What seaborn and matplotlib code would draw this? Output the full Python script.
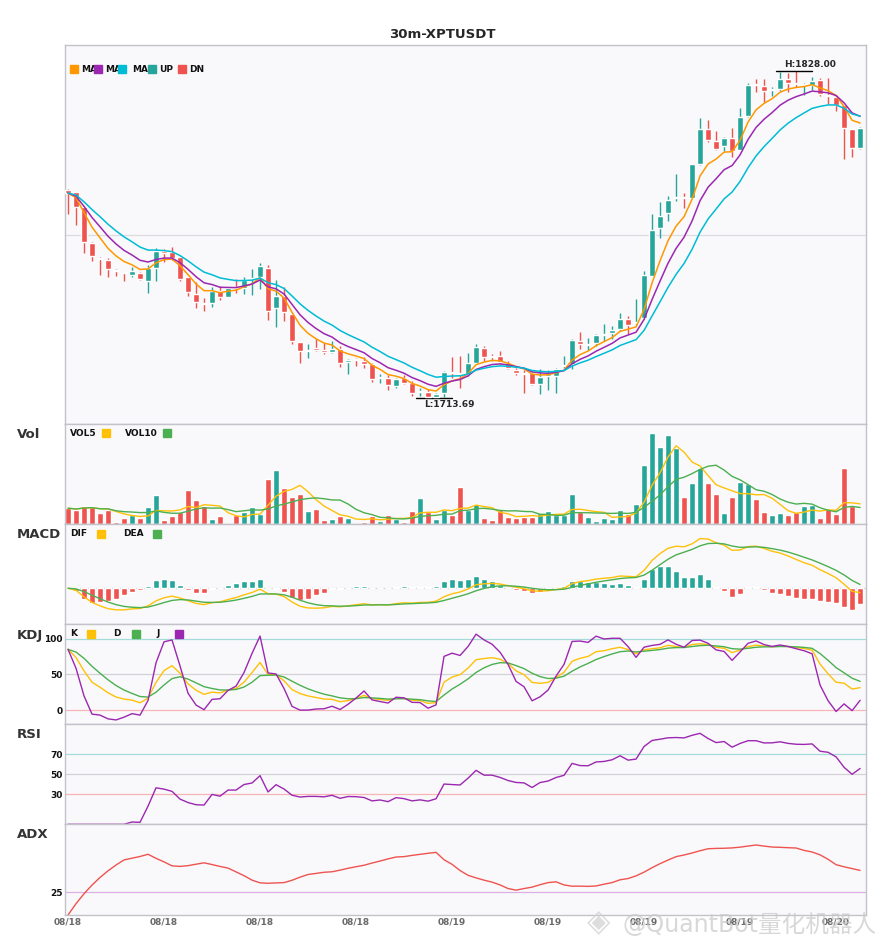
import numpy as np
import pandas as pd
import matplotlib
matplotlib.use("Agg")
import matplotlib.pyplot as plt
from matplotlib.patches import Rectangle
import seaborn as sns

# -------------------------------
# Data
# -------------------------------
opens = [1786.39, 1785.68, 1780.53, 1768.12, 1762.74, 1762.16, 1758.41, 1757.82, 1756.89, 1757.59,
         1754.78, 1759.11, 1765.20, 1764.73, 1763.21, 1755.95, 1750.21, 1746.94, 1746.82, 1751.27,
         1749.16, 1752.67, 1752.20, 1755.25, 1755.95, 1759.35, 1745.06, 1749.51, 1743.08, 1733.36,
         1730.20, 1731.14, 1730.43, 1729.96, 1730.78, 1726.34, 1727.51, 1726.69, 1725.75, 1720.72,
         1720.83, 1717.91, 1720.72, 1719.08, 1715.80, 1715.80, 1714.16, 1715.33, 1722.82, 1722.47,
         1722.24, 1726.10, 1731.37, 1728.56, 1728.44, 1725.87, 1723.41, 1722.59, 1722.59, 1718.49,
         1721.54, 1721.42, 1724.81, 1725.52, 1733.71, 1732.42, 1733.01, 1735.81, 1736.52, 1737.80,
         1741.43, 1740.03, 1741.67, 1756.53, 1773.27, 1778.42, 1783.81, 1784.04, 1783.81, 1795.51,
         1807.80, 1803.59, 1801.84, 1804.64, 1800.66, 1812.37, 1823.49, 1822.91, 1821.50, 1821.74,
         1825.36, 1823.73, 1823.14, 1823.26, 1825.01, 1819.51, 1819.16, 1816.23, 1807.80, 1801.25]
highs = [1786.74, 1785.92, 1780.80, 1768.40, 1763.21, 1762.74, 1758.88, 1758.00, 1759.70, 1757.71,
         1760.40, 1766.25, 1765.78, 1766.72, 1763.40, 1756.10, 1754.20, 1748.69, 1752.44, 1752.91,
         1752.44, 1755.36, 1755.95, 1758.88, 1760.87, 1760.28, 1755.01, 1752.44, 1743.30, 1733.50,
         1732.54, 1734.29, 1733.12, 1733.71, 1731.80, 1727.51, 1727.60, 1728.09, 1725.90, 1722.00,
         1721.77, 1720.83, 1721.77, 1719.66, 1717.32, 1716.74, 1715.57, 1723.17, 1728.09, 1728.44,
         1729.61, 1732.77, 1731.96, 1729.26, 1730.20, 1726.69, 1724.11, 1723.41, 1722.70, 1723.76,
         1723.41, 1724.35, 1728.33, 1734.30, 1736.99, 1734.65, 1736.05, 1739.79, 1738.97, 1743.66,
         1742.49, 1748.34, 1758.29, 1777.95, 1782.40, 1784.28, 1792.24, 1785.45, 1795.60, 1811.55,
         1810.97, 1807.22, 1805.11, 1808.04, 1815.06, 1823.84, 1825.25, 1825.25, 1822.67, 1827.80,
         1827.59, 1828.00, 1823.84, 1826.18, 1825.60, 1825.83, 1819.74, 1816.40, 1808.00, 1808.39]
lows = [1778.19, 1774.10, 1764.38, 1761.57, 1756.89, 1756.19, 1756.54, 1754.55, 1756.19, 1755.13,
        1750.33, 1754.78, 1761.22, 1762.04, 1754.78, 1749.51, 1745.06, 1744.24, 1745.42, 1747.99,
        1748.93, 1750.33, 1750.10, 1749.86, 1751.74, 1741.08, 1738.63, 1740.73, 1732.54, 1726.10,
        1727.86, 1730.20, 1729.26, 1729.61, 1724.58, 1722.24, 1724.93, 1724.35, 1719.43, 1719.08,
        1716.38, 1717.32, 1718.49, 1714.40, 1714.40, 1713.90, 1713.69, 1714.20, 1720.83, 1717.32,
        1721.42, 1725.75, 1726.69, 1726.69, 1725.52, 1723.76, 1721.65, 1715.57, 1718.26, 1714.98,
        1716.38, 1715.57, 1724.35, 1723.76, 1730.78, 1730.43, 1731.96, 1733.71, 1734.29, 1737.22,
        1736.05, 1739.33, 1741.31, 1756.40, 1769.64, 1775.61, 1782.64, 1780.18, 1783.70, 1795.16,
        1803.36, 1800.43, 1800.08, 1798.09, 1800.43, 1811.90, 1820.92, 1817.29, 1819.51, 1821.15,
        1820.92, 1822.67, 1819.74, 1821.50, 1819.51, 1816.58, 1814.13, 1797.27, 1798.09, 1801.01]
closes = [1785.45, 1780.53, 1768.24, 1763.33, 1762.27, 1758.76, 1758.18, 1757.59, 1758.03, 1755.48,
          1759.23, 1765.32, 1764.38, 1762.74, 1755.36, 1750.68, 1747.17, 1746.59, 1751.27, 1749.16,
          1752.20, 1752.20, 1755.01, 1755.83, 1760.05, 1744.24, 1749.51, 1743.89, 1733.71, 1730.20,
          1730.67, 1730.67, 1729.96, 1730.90, 1726.10, 1727.16, 1726.92, 1725.75, 1720.48, 1720.95,
          1718.26, 1720.25, 1718.84, 1715.57, 1716.04, 1714.16, 1715.21, 1722.82, 1722.36, 1722.00,
          1725.98, 1731.60, 1728.09, 1728.09, 1726.45, 1724.11, 1722.59, 1722.24, 1718.49, 1721.18,
          1722.00, 1724.00, 1725.28, 1734.06, 1732.77, 1732.66, 1735.82, 1736.28, 1737.69, 1741.43,
          1739.33, 1740.26, 1756.88, 1772.69, 1777.25, 1782.87, 1784.04, 1783.81, 1795.51, 1807.80,
          1803.94, 1800.78, 1804.64, 1800.20, 1811.90, 1823.14, 1823.14, 1821.27, 1821.74, 1825.25,
          1824.08, 1823.49, 1823.37, 1824.66, 1819.98, 1819.28, 1816.23, 1808.04, 1801.25, 1808.04]
volume = [48, 43, 55, 52, 34, 44, 7, 18, 28, 20,
          52, 88, 13, 25, 36, 103, 73, 55, 16, 25,
          4, 28, 38, 52, 30, 136, 163, 109, 82, 91,
          40, 46, 13, 16, 26, 19, 4, 7, 26, 11,
          28, 16, 7, 40, 79, 37, 16, 42, 29, 112,
          43, 61, 19, 13, 42, 22, 19, 23, 23, 34,
          40, 28, 28, 91, 37, 22, 10, 19, 16, 43,
          30, 61, 178, 271, 229, 265, 228, 82, 124, 169,
          124, 91, 34, 82, 127, 121, 76, 37, 28, 34,
          28, 37, 55, 58, 19, 46, 31, 169, 55, 4]

tick_pos = [0, 12, 24, 36, 48, 60, 72, 84, 96]
tick_labels = ["08/18", "08/18", "08/18", "08/18", "08/19", "08/19", "08/19", "08/19", "08/20"]

UP, DN = "#26a69a", "#ef5350"
ORANGE, PURPLE, CYAN = "#ff9800", "#9c27b0", "#00bcd4"
YELLOW, GREEN = "#ffc107", "#4caf50"

df = pd.DataFrame({"open": opens, "high": highs, "low": lows, "close": closes, "vol": volume})
idx = np.arange(len(df))
up = df["close"] >= df["open"]
colors = np.where(up, UP, DN)

# -------------------------------
# Indicators
# -------------------------------
ma_fast = df["close"].ewm(span=5, adjust=False).mean()
ma_mid = df["close"].ewm(span=8, adjust=False).mean()
ma_slow = df["close"].ewm(span=13, adjust=False).mean()

vol5 = df["vol"].rolling(5, min_periods=1).mean()
vol10 = df["vol"].rolling(10, min_periods=1).mean()

# fast MACD (6, 13, 5)
dif = df["close"].ewm(span=6, adjust=False).mean() - df["close"].ewm(span=13, adjust=False).mean()
dea = dif.ewm(span=5, adjust=False).mean()
hist = 2 * (dif - dea)

llv = df["low"].rolling(9, min_periods=1).min()
hhv = df["high"].rolling(9, min_periods=1).max()
rsv = (df["close"] - llv) / (hhv - llv) * 100
k = rsv.ewm(com=2, adjust=False).mean()
d = k.ewm(com=2, adjust=False).mean()
j = 3 * k - 2 * d

delta = df["close"].diff()
gain = delta.clip(lower=0).ewm(com=13).mean()
loss = (-delta.clip(upper=0)).ewm(com=13).mean()
rsi = (100 * gain / (gain + loss)).fillna(0)

prev_close = df["close"].shift()
tr = pd.concat([df["high"] - df["low"], (df["high"] - prev_close).abs(),
                (df["low"] - prev_close).abs()], axis=1).max(axis=1)
up_move = df["high"].diff()
down_move = -df["low"].diff()
pdm = pd.Series(np.where((up_move > down_move) & (up_move > 0), up_move, 0.0))
mdm = pd.Series(np.where((down_move > up_move) & (down_move > 0), down_move, 0.0))
a = 1 / 8
tr_s = tr.ewm(alpha=a, adjust=False).mean()
pdi = 100 * pdm.ewm(alpha=a, adjust=False).mean() / tr_s
mdi = 100 * mdm.ewm(alpha=a, adjust=False).mean() / tr_s
dx = (100 * (pdi - mdi).abs() / (pdi + mdi)).fillna(0)
adx = dx.ewm(alpha=a, adjust=False).mean()

# -------------------------------
# Figure
# -------------------------------
sns.set_theme(style="white")
plt.rcParams["font.family"] = ["DejaVu Sans"]
plt.rcParams["axes.facecolor"] = "#f9f9fb"

W, H = 885, 950
fig = plt.figure(figsize=(W / 100, H / 100), dpi=100)


def fx(px):
    return px / W


def fy(py):
    return 1 - py / H


def make_ax(top, bottom):
    ax = fig.add_axes([fx(65.3), fy(bottom), (865.7 - 65.3) / W, (bottom - top) / H])
    ax.set_xlim(-0.34, 99.7)
    for s in ax.spines.values():
        s.set_color("#c2c2ca")
        s.set_linewidth(1.0)
    ax.tick_params(length=0, pad=2)
    ax.set_xticks([])
    return ax


ax_main = make_ax(45.3, 424.3)
ax_vol = make_ax(424.3, 524.3)
ax_macd = make_ax(524.3, 624.3)
ax_kdj = make_ax(624.3, 724.3)
ax_rsi = make_ax(724.3, 824.3)
ax_adx = make_ax(824.3, 915.0)

# main candles
lo, hi = df["low"].min(), df["high"].max()
pad = 0.08 * (hi - lo)
ax_main.set_ylim(lo - pad, hi + pad)
ax_main.axhline((lo + hi) / 2, color="#dcdce0", lw=0.9, zorder=0)
body_lo = np.minimum(df["open"], df["close"])
body_h = np.maximum((df["close"] - df["open"]).abs(), 0.35)
ax_main.vlines(idx, df["low"], df["high"], colors=colors, lw=1.0, zorder=2)
ax_main.bar(idx, body_h, bottom=body_lo, width=0.75, color=colors, zorder=3)
for s, c in [(ma_fast, ORANGE), (ma_mid, PURPLE), (ma_slow, CYAN)]:
    sns.lineplot(x=idx, y=s.values, ax=ax_main, color=c, lw=1.1, zorder=4)
ax_main.set_yticks([])

i_hi, i_lo = int(df["high"].idxmax()), int(df["low"].idxmin())
ax_main.plot([i_hi - 2.5, i_hi + 2], [hi, hi], color="black", lw=1.0)
ax_main.text(i_hi - 1.5, hi + 0.8, f"H:{hi:.2f}", fontsize=6.5, weight="bold", va="bottom")
ax_main.plot([i_lo - 2.5, i_lo + 2], [lo, lo], color="black", lw=1.0)
ax_main.text(i_lo - 1.5, lo - 0.8, f"L:{lo:.2f}", fontsize=6.5, weight="bold", va="top")

# volume
ax_vol.bar(idx, df["vol"], width=0.75, color=colors)
sns.lineplot(x=idx, y=vol5.values, ax=ax_vol, color=YELLOW, lw=1.0)
sns.lineplot(x=idx, y=vol10.values, ax=ax_vol, color=GREEN, lw=1.0)
ax_vol.set_ylim(0, df["vol"].max() * 1.1)
ax_vol.set_yticks([])

# macd
ax_macd.bar(idx, hist, width=0.75, color=np.where(hist >= 0, UP, DN))
ax_macd.axhline(0, color="#d6d6da", lw=0.9, zorder=0)
sns.lineplot(x=idx, y=dif.values, ax=ax_macd, color=YELLOW, lw=1.0)
sns.lineplot(x=idx, y=dea.values, ax=ax_macd, color=GREEN, lw=1.0)
m_lo = min(dif.min(), dea.min(), hist.min())
m_hi = max(dif.max(), dea.max(), hist.max())
m_pad = 0.2 * (m_hi - m_lo)
ax_macd.set_ylim(m_lo - m_pad, m_hi + m_pad)
ax_macd.set_yticks([])

# kdj
for lvl, c in [(100, "#a6dad6"), (50, "#d2d2d6"), (0, "#f6b4b4")]:
    ax_kdj.axhline(lvl, color=c, lw=0.9, zorder=0)
sns.lineplot(x=idx, y=k.values, ax=ax_kdj, color=YELLOW, lw=1.0)
sns.lineplot(x=idx, y=d.values, ax=ax_kdj, color=GREEN, lw=1.0)
sns.lineplot(x=idx, y=j.values, ax=ax_kdj, color=PURPLE, lw=1.0)
ax_kdj.set_ylim(-20, 120)
ax_kdj.set_yticks([0, 50, 100])

# rsi
for lvl, c in [(70, "#a6dad6"), (50, "#d2d2d6"), (30, "#f6b4b4")]:
    ax_rsi.axhline(lvl, color=c, lw=0.9, zorder=0)
sns.lineplot(x=idx, y=rsi.values, ax=ax_rsi, color=PURPLE, lw=1.0)
ax_rsi.set_ylim(0, 100)
ax_rsi.set_yticks([30, 50, 70])

# adx
ax_adx.axhline(25, color="#dcb0e4", lw=0.9, zorder=0)
sns.lineplot(x=idx, y=adx.values, ax=ax_adx, color=DN, lw=1.0)
ax_adx.set_ylim(0, 100)
ax_adx.set_yticks([25])
ax_adx.set_xticks(tick_pos)
ax_adx.set_xticklabels(tick_labels, fontsize=6.5, weight="bold", color="#6a6a6a")

for ax in [ax_kdj, ax_rsi, ax_adx]:
    for lab in ax.get_yticklabels():
        lab.set_fontsize(6.5)
        lab.set_fontweight("bold")
        lab.set_color("#111111")
for ax in [ax_main, ax_vol, ax_macd, ax_kdj, ax_rsi]:
    ax.set_xticks([])
for ax in [ax_main, ax_vol, ax_macd, ax_kdj, ax_rsi, ax_adx]:
    ax.set_xlabel("")
    ax.set_ylabel("")

# -------------------------------
# Titles & legends
# -------------------------------
fig.text(0.5, fy(34), "30m-XPTUSDT", ha="center", va="center", fontsize=9.5, weight="bold")
for name, py in [("Vol", 434), ("MACD", 535), ("KDJ", 635), ("RSI", 735), ("ADX", 835)]:
    fig.text(fx(17), fy(py), name, ha="left", va="center", fontsize=9.5, weight="bold", color="#333333")


def legend_row(py, items):
    for tx, label, sx, c in items:
        fig.text(fx(tx), fy(py), label, ha="left", va="center", fontsize=6.5, weight="bold",
                 color="#111111", zorder=5)
        fig.add_artist(Rectangle((fx(sx), fy(py + 4)), 8 / W, 8 / H, transform=fig.transFigure,
                                 color=c, zorder=6))


legend_row(69, [(81, "MA", 70, ORANGE), (105.3, "MA", 94, PURPLE), (131.7, "MA", 118.3, CYAN),
                (159.3, "UP", 148.3, UP), (189.3, "DN", 178.3, DN)])
legend_row(433.3, [(70, "VOL5", 101.7, YELLOW), (125, "VOL10", 163.3, GREEN)])
legend_row(534, [(70, "DIF", 97.3, YELLOW), (123.3, "DEA", 153.3, GREEN)])
legend_row(633.7, [(70, "K", 87.3, YELLOW), (113.3, "D", 131.7, GREEN), (156.7, "J", 175, PURPLE)])

# watermark of the source site (semi-transparent, ticks show through)
fig.text(fx(587), fy(923), "◈", ha="left", va="center", fontsize=22, color="#d2d2d2", alpha=0.75)
fig.text(fx(622), fy(925), "@QuantBot量化机器人", ha="left", va="center", fontsize=17,
         color="#c8c8c8", alpha=0.7, family=["DejaVu Sans", "Noto Sans CJK SC"])

fig.savefig("out.png", dpi=100)
